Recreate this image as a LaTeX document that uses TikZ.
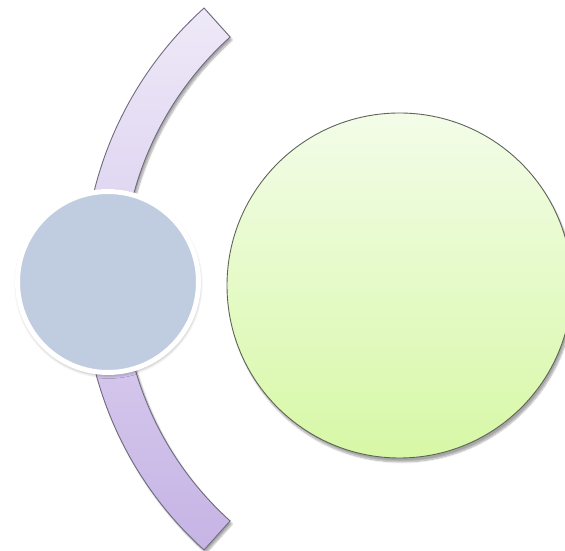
\documentclass[tikz,border=0pt]{standalone}
\usetikzlibrary{shadows.blur}
\definecolor{bandtop}{HTML}{EEE9F8}
\definecolor{bandbot}{HTML}{C6B4E5}
\definecolor{bandline}{HTML}{6F6A7E}
\definecolor{bluefill}{HTML}{C0CCE0}
\definecolor{greentop}{HTML}{F3FCE8}
\definecolor{greenbot}{HTML}{D7F8A6}
\definecolor{greenline}{HTML}{5E6458}
\tikzset{
  bandstyle/.style={draw=bandline, line width=0.9pt, top color=bandtop, bottom color=bandbot,
    blur shadow={shadow xshift=2pt, shadow yshift=-3pt, shadow blur steps=8, shadow opacity=35}},
  bluecircle/.style={circle, minimum size=181pt, inner sep=0pt, draw=white, line width=5pt, fill=bluefill,
    blur shadow={shadow xshift=0.5pt, shadow yshift=-2pt, shadow blur radius=4pt, shadow blur steps=8, shadow opacity=45}},
  greencircle/.style={circle, minimum size=345pt, inner sep=0pt, draw=greenline, line width=0.9pt,
    top color=greentop, bottom color=greenbot,
    blur shadow={shadow xshift=2pt, shadow yshift=-4pt, shadow blur steps=8, shadow opacity=35}}
}
\begin{document}
\begin{tikzpicture}[x=1pt,y=1pt]
\useasboundingbox (0,0) rectangle (565,551);
\clip (0,0) rectangle (565,551);
\coordinate (c) at (448,272);
\path[bandstyle] (c) ++(132:364.6pt) arc[start angle=132, end angle=228, radius=364.6pt]
  -- ++(48:39pt) arc[start angle=228, end angle=132, radius=325.6pt] -- cycle;
\node[bluecircle] (blue) at (108,269) {};
\node[greencircle] (green) at (399.5,265.5) {};
\end{tikzpicture}
\end{document}
